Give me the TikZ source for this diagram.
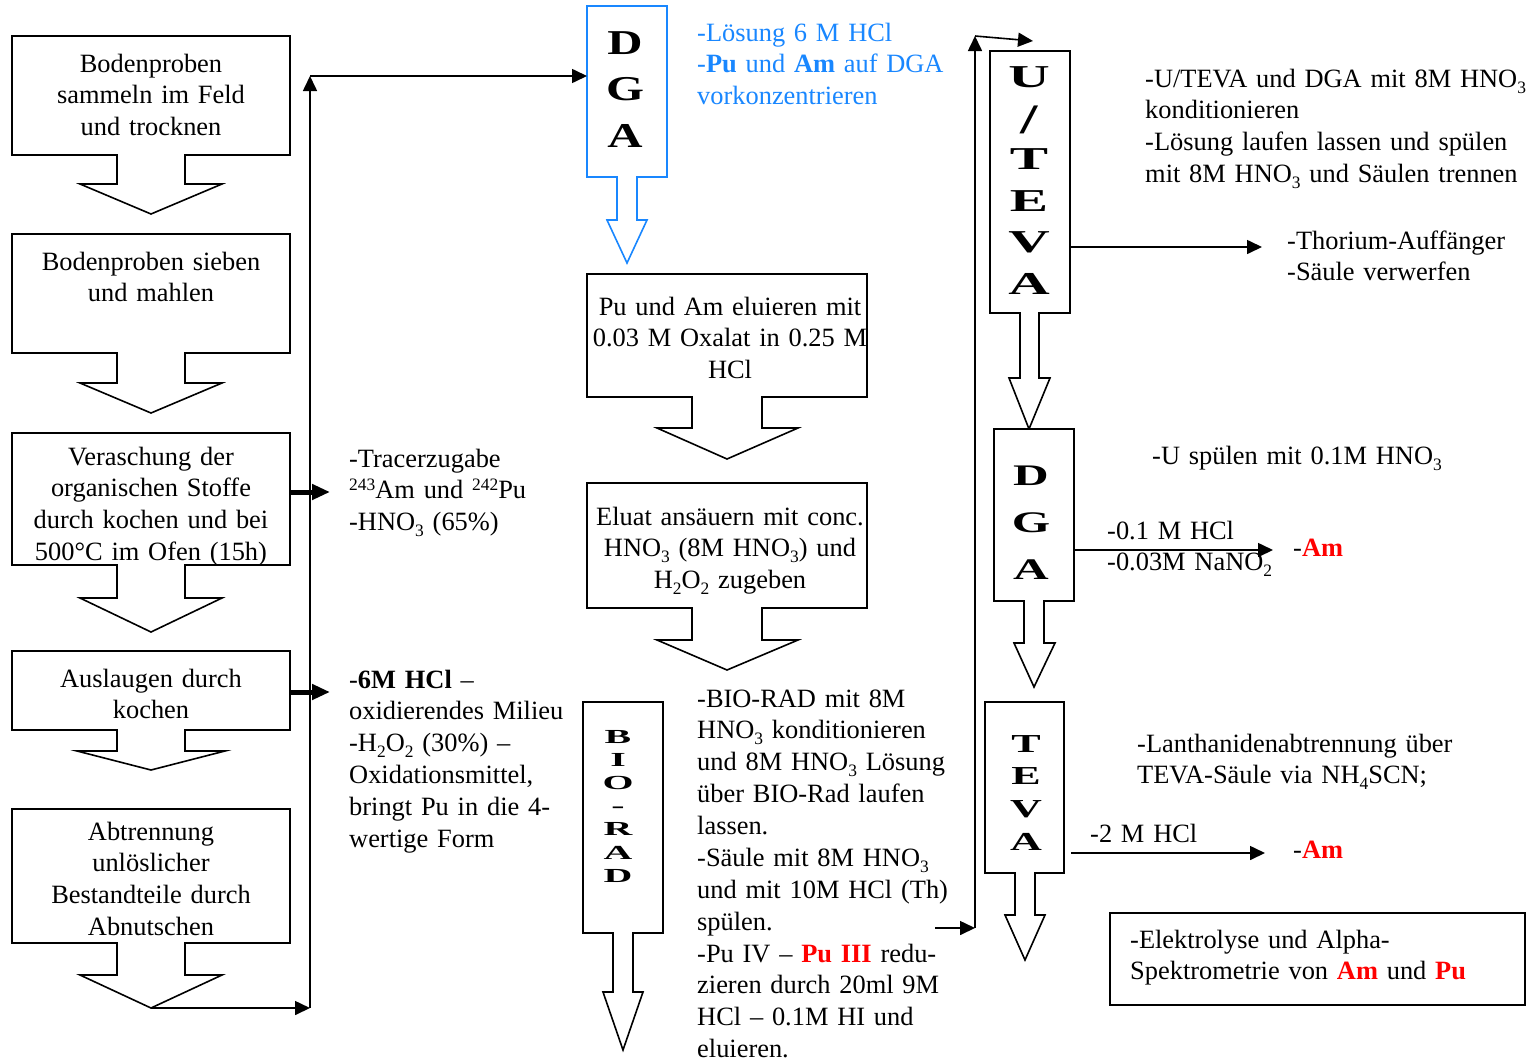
\documentclass[tikz,border=0pt]{standalone}
\usepackage{fontspec}
\usepackage{graphicx}
\setmainfont{Liberation Serif}
\usetikzlibrary{arrows.meta}
\definecolor{dgablue}{RGB}{25,135,255}
\definecolor{amred}{RGB}{255,0,0}
\newcommand\ws[2]{\scalebox{#1}[1]{#2}}
\newcommand\sub[1]{\raisebox{-6bp}{\fontsize{17.5}{17.5}\selectfont #1}}
\newcommand\sps[1]{\raisebox{8bp}{\fontsize{17.5}{17.5}\selectfont #1}}
\newcommand\rb[1]{\textcolor{amred}{\textbf{#1}}}
\newcommand\mytxtfont{\fontsize{26.5}{32}\selectfont\fontdimen2\font=5.1bp\relax}
\begin{document}
\begin{tikzpicture}[x=1bp,y=-1bp,
  flowbox/.style={draw, line width=1.6bp, line join=miter, fill=white},
  txt/.style={inner sep=0pt, font=\mytxtfont},
  ctxt/.style={txt, anchor=base, text width=#1, align=center},
  ltxt/.style={txt, anchor=base west, text width=#1, align=left},
  colL/.style={inner sep=0pt, anchor=base, text width=90bp, align=center},
  arr/.style={line width=1.6bp, -{Triangle[length=15bp,width=14bp]}},
  thickarr/.style={line width=5bp, -{Triangle[length=18bp,width=15bp]}}]
\useasboundingbox (0,0) rectangle (1526,1061);
\fill[white] (0,0) rectangle (1526,1061);

% ---------- left column ----------
\draw[flowbox] (12,36) -- (290,36) -- (290,155) -- (185,155) -- (185,184) -- (222,184) -- (151,214) -- (80,184) -- (117,184) -- (117,155) -- (12,155) -- cycle;
\draw[flowbox] (12,234) -- (290,234) -- (290,353) -- (185,353) -- (185,383) -- (222,383) -- (151,413) -- (80,383) -- (117,383) -- (117,353) -- (12,353) -- cycle;
\draw[flowbox] (12,433) -- (290,433) -- (290,565) -- (185,565) -- (185,598) -- (222,598) -- (151,632) -- (80,598) -- (117,598) -- (117,565) -- (12,565) -- cycle;
\draw[flowbox] (12,651) -- (290,651) -- (290,730) -- (185,730) -- (185,751) -- (225,751) -- (151,770) -- (77,751) -- (117,751) -- (117,730) -- (12,730) -- cycle;
\draw[flowbox] (12,809) -- (290,809) -- (290,943) -- (185,943) -- (185,975) -- (222,975) -- (151,1008) -- (80,975) -- (117,975) -- (117,943) -- (12,943) -- cycle;

\node[ctxt=270bp] (b1) at (151,72) {Bodenproben\\sammeln im Feld\\und trocknen};
\node[ctxt=270bp] (b2) at (151,270) {Bodenproben sieben\\und mahlen};
\node[ctxt=270bp] (b3) at (151,465) {Veraschung der\\organischen Stoffe\\durch kochen und bei\\500°C im Ofen (15h)};
\node[ctxt=270bp] (b4) at (151,687) {Auslaugen durch\\kochen};
\node[ctxt=270bp] (b5) at (151,840) {Abtrennung\\unlöslicher\\Bestandteile durch\\Abnutschen};

\coordinate (b3e) at (290,492);
\coordinate (b4e) at (290,692);
\coordinate (t5) at (151,1008);
\coordinate (c1) at (310,1008);
\coordinate (c2) at (310,76);

% side notes
\node[ltxt=240bp] (n1) at (349,467) {-Tracerzugabe\\\sps{243}Am und \sps{242}Pu\\-HNO\sub{3} (65\%)};
\node[ltxt=240bp] (n2) at (349,688) {-\textbf{6M HCl} –\\oxidierendes Milieu\\-H\sub{2}O\sub{2} (30\%) –\\Oxidationsmittel,\\bringt Pu in die 4-\\wertige Form};
\coordinate (n1w) at (330,492);
\coordinate (n2w) at (330,692);

% ---------- middle column ----------
\draw[flowbox, draw=dgablue] (587,6) -- (667,6) -- (667,177) -- (637,177) -- (637,220) -- (647,220) -- (627,263) -- (607,220) -- (617,220) -- (617,177) -- (587,177) -- cycle;
\node[colL, font=\fontsize{35}{47}\selectfont\bfseries] (dga1) at (625,54) {\ws{1.4}{D}\\\ws{1.4}{G}\\\ws{1.4}{A}};
\coordinate (dga1w) at (587,76);
\node[ltxt=300bp, text=dgablue] (blue) at (697,41) {-Lösung 6 M HCl\\-\textbf{Pu} und \textbf{Am} auf DGA\\vorkonzentrieren};

\draw[flowbox] (587,274) -- (867,274) -- (867,397) -- (762,397) -- (762,428) -- (798,428) -- (727,459) -- (657,428) -- (692,428) -- (692,397) -- (587,397) -- cycle;
\node[ctxt=290bp] (elu) at (730,315) {Pu und Am eluieren mit\\0.03 M Oxalat in 0.25 M\\HCl};

\draw[flowbox] (587,483) -- (867,483) -- (867,608) -- (762,608) -- (762,640) -- (798,640) -- (727,670) -- (657,640) -- (692,640) -- (692,608) -- (587,608) -- cycle;
\node[ctxt=290bp] (acid) at (730,525) {Eluat ansäuern mit conc.\\HNO\sub{3} (8M HNO\sub{3}) und\\H\sub{2}O\sub{2} zugeben};

\draw[flowbox] (583,702) -- (663,702) -- (663,933) -- (633,933) -- (633,992) -- (643,992) -- (623,1050) -- (603,992) -- (613,992) -- (613,933) -- (583,933) -- cycle;
\node[colL, font=\fontsize{20}{23.3}\selectfont\bfseries] (bio) at (618,743) {\ws{2.0}{B}\\\ws{2.0}{I}\\\ws{2.0}{O}\\\ws{2.0}{-}\\\ws{2.0}{R}\\\ws{2.0}{A}\\\ws{2.0}{D}};

\node[ltxt=260bp] (biotxt) at (697,707) {-BIO-RAD mit 8M\\HNO\sub{3} konditionieren\\und 8M HNO\sub{3} Lösung\\über BIO-Rad laufen\\lassen.\\-Säule mit 8M HNO\sub{3}\\und mit 10M HCl (Th)\\spülen.\\-Pu IV – \rb{Pu III} redu-\\zieren durch 20ml 9M\\HCl – 0.1M HI und\\eluieren.};
\coordinate (r0) at (935,928);
\coordinate (r1) at (975,928);
\coordinate (r2) at (975,36);

% ---------- right column ----------
\draw[flowbox] (990,51) -- (1070,51) -- (1070,313) -- (1039,313) -- (1039,378) -- (1050,378) -- (1029,429) -- (1009,378) -- (1020,378) -- (1020,313) -- (990,313) -- cycle;
\node[colL, font=\fontsize{32}{41.6}\selectfont\bfseries] (uteva) at (1029,87) {\ws{1.8}{U}\\\raisebox{-5bp}{\ws{1.5}{\fontsize{42}{42}\selectfont /}}\\\ws{1.8}{T}\\\ws{1.8}{E}\\\ws{1.8}{V}\\\ws{1.8}{A}};
\coordinate (utevan) at (1033,41);
\coordinate (utevae) at (1070,247);

\node[ltxt=400bp] (utxt) at (1145,87) {-U/TEVA und DGA mit 8M HNO\sub{3}\\konditionieren\\-Lösung laufen lassen und spülen\\mit 8M HNO\sub{3} und Säulen trennen};
\node[ltxt=240bp] (thor) at (1287,249) {-Thorium-Auffänger\\-Säule verwerfen};
\coordinate (thorw) at (1262,247);

\draw[flowbox] (994,429) -- (1074,429) -- (1074,601) -- (1044,601) -- (1044,643) -- (1055,643) -- (1034,687) -- (1014,643) -- (1024,643) -- (1024,601) -- (994,601) -- cycle;
\node[colL, font=\fontsize{30}{47.5}\selectfont\bfseries] (dga2) at (1031,485) {\ws{1.65}{D}\\\ws{1.65}{G}\\\ws{1.65}{A}};
\coordinate (dga2e) at (1074,550);
\node[ltxt=340bp] (uspuel) at (1152,464) {-U spülen mit 0.1M HNO\sub{3}};
\node[ltxt=200bp] (hcl1) at (1107,539) {-0.1 M HCl\\[-0.5bp]-0.03M NaNO\sub{2}};
\node[ltxt=100bp] (am1) at (1293,556) {-\rb{Am}};
\coordinate (am1w) at (1273,550);

\draw[flowbox] (985,702) -- (1064,702) -- (1064,873) -- (1035,873) -- (1035,915) -- (1045,915) -- (1025,960) -- (1005,915) -- (1015,915) -- (1015,873) -- (985,873) -- cycle;
\node[colL, font=\fontsize{26}{33}\selectfont\bfseries] (teva) at (1026,752) {\ws{1.7}{T}\\\ws{1.7}{E}\\\ws{1.7}{V}\\\ws{1.7}{A}};
\coordinate (tevae) at (1071,853);
\node[ltxt=380bp] (lanth) at (1137,752) {-Lanthanidenabtrennung über\\TEVA-Säule via NH\sub{4}SCN;};
\node[ltxt=200bp] (hcl2) at (1090,842) {-2 M HCl};
\node[ltxt=100bp] (am2) at (1293,858) {-\rb{Am}};
\coordinate (am2w) at (1265,853);

\node[draw, line width=1.6bp, minimum width=415bp, minimum height=92bp, anchor=north west, inner sep=0pt] (final) at (1109,912) {};
\node[ltxt=390bp] (finaltxt) at (1130,948) {-Elektrolyse und Alpha-\\Spektrometrie von \rb{Am} und \rb{Pu}};

% ---------- connectors ----------
\draw[arr] (t5) -- (c1);
\draw[arr] (c1) -- (c2);
\draw[arr] (c2) -- (dga1w);
\draw[thickarr] (b3e) -- (n1w);
\draw[thickarr] (b4e) -- (n2w);
\draw[arr] (r0) -- (r1);
\draw[arr] (r1) -- (r2);
\draw[arr] (r2) -- (utevan);
\draw[arr] (utevae) -- (thorw);
\draw[arr] (dga2e) -- (am1w);
\draw[arr] (tevae) -- (am2w);
\end{tikzpicture}
\end{document}
